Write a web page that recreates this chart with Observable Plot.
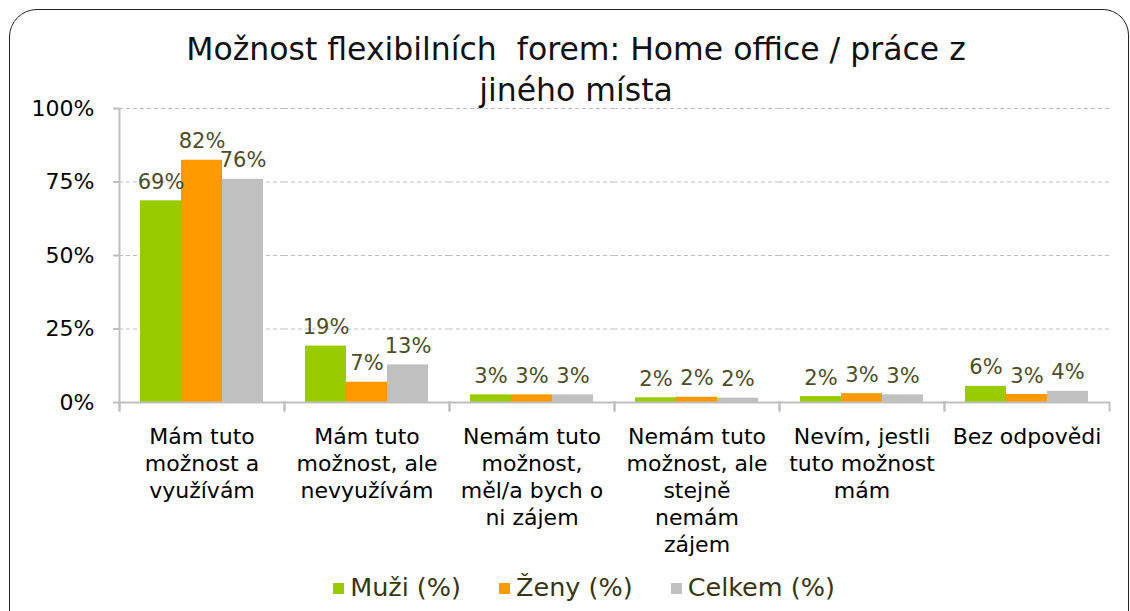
<!DOCTYPE html>
<html>
<head>
<meta charset="utf-8">
<script src="https://cdn.jsdelivr.net/npm/d3@7"></script>
<script src="https://cdn.jsdelivr.net/npm/@observablehq/plot@0.6"></script>
<style>
  html, body { margin: 0; padding: 0; width: 1130px; height: 611px; overflow: hidden; background: #fff; font-family: "DejaVu Sans", sans-serif; }
  #frame { position: absolute; left: 9px; top: 9px; width: 1120px; height: 700px; border: 1.5px solid #222; border-radius: 28px 26px 0 0; box-sizing: border-box; }
  #title { position: absolute; left: 0; width: 1152px; top: 29px; text-align: center; font-size: 31.5px; line-height: 41px; color: #111; white-space: pre; }
  #chart { position: absolute; left: 0; top: 100px; }
  #legend { position: absolute; left: 0; width: 1168px; top: 572px; text-align: center; font-size: 25.5px; color: #363612; white-space: nowrap; }
  #legend span.item { display: inline-block; margin: 0 19px; }
  #legend span.sw { display: inline-block; width: 11px; height: 11px; margin-right: 6px; vertical-align: 2px; }
</style>
</head>
<body>
<div id="frame"></div>
<div id="title">Možnost flexibilních  forem: Home office / práce z
jiného místa</div>
<div id="chart"></div>
<div id="legend"></div>
<script>
const categories = [
  "Mám tuto možnost a využívám",
  "Mám tuto možnost, ale nevyužívám",
  "Nemám tuto možnost, měl/a bych o ni zájem",
  "Nemám tuto možnost, ale stejně nemám zájem",
  "Nevím, jestli tuto možnost mám",
  "Bez odpovědi"
];
const tickLabels = [
  "Mám tuto\nmožnost a\nvyužívám",
  "Mám tuto\nmožnost, ale\nnevyužívám",
  "Nemám tuto\nmožnost,\nměl/a bych o\nni zájem",
  "Nemám tuto\nmožnost, ale\nstejně\nnemám\nzájem",
  "Nevím, jestli\ntuto možnost\nmám",
  "Bez odpovědi"
];
const series = ["Muži (%)", "Ženy (%)", "Celkem (%)"];
const colors = ["#99CC00", "#FF9900", "#C0C0C0"];
const muzi   = [68.6, 19.2, 2.6, 1.6, 2.0, 5.5];
const zeny   = [82.4, 6.9, 2.6, 1.8, 3.0, 2.7];
const celkem = [75.9, 12.8, 2.6, 1.5, 2.6, 3.8];
const yTicks = [0, 25, 50, 75, 100];

const valuesBySeries = [muzi, zeny, celkem];
const data = [];
categories.forEach((c, i) => {
  series.forEach((s, j) => data.push({cat: c, series: s, value: valuesBySeries[j][i]}));
});

const axisColor = "#bfbfbf";

const chart = Plot.plot({
  width: 1130,
  height: 470,
  marginTop: 8,
  marginBottom: 168,
  marginLeft: 118,
  marginRight: 20,
  style: {fontFamily: "DejaVu Sans, sans-serif", fontSize: "22px", color: "#000", background: "transparent", overflow: "visible"},
  fx: {domain: categories, padding: 0, label: null},
  x: {domain: series, paddingInner: 0, paddingOuter: 0.5, axis: null},
  y: {domain: [0, 100], label: null},
  color: {domain: series, range: colors},
  marks: [
    Plot.gridY(yTicks.filter(d => d > 0), {stroke: axisColor, strokeOpacity: 1, strokeDasharray: "4,3"}),
    Plot.barY(data, {fx: "cat", x: "series", y: "value", fill: "series", inset: 0}),
    Plot.ruleY([0], {stroke: axisColor, strokeWidth: 2}),
    Plot.frame({anchor: "left", stroke: axisColor, strokeWidth: 2, insetBottom: -8, facetAnchor: "left"}),
    Plot.frame({anchor: "left", stroke: axisColor, strokeWidth: 2, insetTop: 294, insetBottom: -8}),
    Plot.frame({anchor: "right", stroke: axisColor, strokeWidth: 2, insetTop: 294, insetBottom: -8}),
    Plot.axisY(yTicks, {tickSize: 6, tickPadding: 19, tickFormat: d => d + "%", stroke: axisColor, strokeWidth: 2, fill: "#000", fontSize: 22, label: null}),
    Plot.axisFx({anchor: "bottom", tickSize: 0, tickPadding: 22, tickFormat: d => tickLabels[categories.indexOf(d)], fontSize: 22, lineHeight: 1.23, fill: "#000", label: null}),
    Plot.text(data, {fx: "cat", x: "series", y: "value", text: d => Math.round(d.value) + "%", dy: -12, lineAnchor: "bottom", fill: "#4d4d26", fontSize: 21})
  ]
});
document.getElementById("chart").appendChild(chart);

const legend = document.getElementById("legend");
series.forEach((s, i) => {
  const item = document.createElement("span");
  item.className = "item";
  const sw = document.createElement("span");
  sw.className = "sw";
  sw.style.background = colors[i];
  item.appendChild(sw);
  item.appendChild(document.createTextNode(s));
  legend.appendChild(item);
});
</script>
</body>
</html>
